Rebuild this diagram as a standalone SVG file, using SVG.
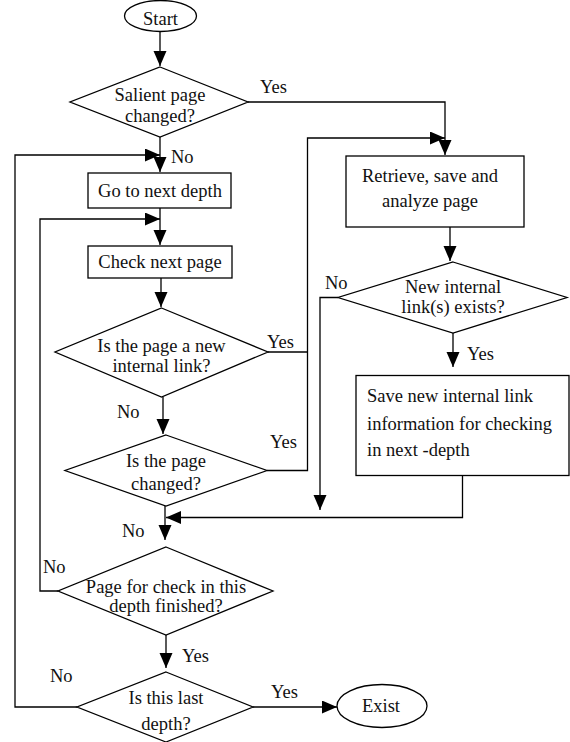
<svg xmlns="http://www.w3.org/2000/svg" width="570" height="742" viewBox="0 0 570 742">
<defs>
<marker id="ah" markerUnits="userSpaceOnUse" markerWidth="16" markerHeight="14" refX="15" refY="6.5" orient="auto">
<path d="M0,0 L15,6.5 L0,13 Z" fill="#000"/>
</marker>
<style>
.s{fill:#fff;stroke:#000;stroke-width:1.3}
.c{fill:none;stroke:#000;stroke-width:1.3}
.a{fill:none;stroke:#000;stroke-width:1.3;marker-end:url(#ah)}
text{font-family:"Liberation Serif","Times New Roman",serif;font-size:18.5px;fill:#111}
.m{text-anchor:middle}
</style>
</defs>
<rect width="570" height="742" fill="#fff"/>
<g id="connectors">
<line class="a" x1="160" y1="31" x2="160" y2="66"/>
<polyline class="a" points="248,102 445,102 445,155"/>
<line class="a" x1="160" y1="137" x2="160" y2="172"/>
<polyline class="a" points="77,707 15,707 15,155 160,155"/>
<line class="a" x1="160" y1="208" x2="160" y2="245"/>
<polyline class="a" points="58,591 40,591 40,219 160,219"/>
<line class="a" x1="161" y1="278" x2="161" y2="307"/>
<line class="a" x1="163" y1="397" x2="163" y2="434"/>
<polyline class="c" points="268,352 307.5,352"/>
<polyline class="a" points="267,470.5 307.5,470.5 307.5,138 445,138"/>
<line class="a" x1="450" y1="226" x2="450" y2="261"/>
<polyline class="a" points="338,297.5 320,297.5 320,510"/>
<line class="a" x1="453" y1="333" x2="453" y2="367"/>
<polyline class="a" points="462.5,475 462.5,517.5 166,517.5"/>
<line class="a" x1="165" y1="506" x2="165" y2="540"/>
<line class="a" x1="166" y1="635" x2="166" y2="668"/>
<line class="a" x1="253" y1="707" x2="337" y2="707"/>
</g>
<g id="start">
<ellipse class="s" cx="160.5" cy="16" rx="36" ry="15.5"/>
<text class="m" x="160.5" y="25">Start</text>
</g>
<g id="salient">
<polygon class="s" points="160,67 248,102 160,137 70,102"/>
<text class="m" x="160" y="101">Salient page</text>
<text class="m" x="160" y="121.5">changed?</text>
<text x="260" y="93">Yes</text>
<text x="171" y="163">No</text>
</g>
<g id="gonext">
<rect class="s" x="88" y="173" width="143" height="35"/>
<text class="m" x="160" y="197">Go to next depth</text>
</g>
<g id="checknext">
<rect class="s" x="88" y="246" width="144" height="32"/>
<text class="m" x="160" y="268">Check next page</text>
</g>
<g id="newlink">
<polygon class="s" points="161.5,308 268,352 161.5,397 55,352"/>
<text class="m" x="161.5" y="352">Is the page a new</text>
<text class="m" x="161.5" y="372">internal link?</text>
<text x="267" y="348">Yes</text>
<text x="117" y="418">No</text>
</g>
<g id="changed">
<polygon class="s" points="166,435 267,470.5 166,506 65,470.5"/>
<text class="m" x="166" y="467">Is the page</text>
<text class="m" x="166" y="490">changed?</text>
<text x="270" y="448">Yes</text>
</g>
<g id="retrieve">
<rect class="s" x="346" y="156" width="178" height="71"/>
<text class="m" x="430" y="182">Retrieve, save and</text>
<text class="m" x="430" y="207">analyze page</text>
</g>
<g id="exists">
<polygon class="s" points="453,262 567,297.5 453,333 338,297.5"/>
<text class="m" x="453" y="293">New internal</text>
<text class="m" x="453" y="313">link(s) exists?</text>
<text x="325" y="289">No</text>
<text x="467" y="360">Yes</text>
</g>
<g id="savelink">
<rect class="s" x="356" y="375.5" width="213" height="100"/>
<text x="367" y="402">Save new internal link</text>
<text x="367" y="430">information for checking</text>
<text x="367" y="456">in next -depth</text>
</g>
<g id="finished">
<polygon class="s" points="166,547 273,591 166,635 58,591"/>
<text class="m" x="166" y="593">Page for check in this</text>
<text class="m" x="166" y="612">depth finished?</text>
<text x="122" y="537">No</text>
<text x="43" y="573">No</text>
<text x="182" y="662">Yes</text>
</g>
<g id="lastdepth">
<polygon class="s" points="166,672 253,707 166,742 77,707"/>
<text class="m" x="166" y="704">Is this last</text>
<text class="m" x="166" y="730">depth?</text>
<text x="50" y="682">No</text>
<text x="271" y="698">Yes</text>
</g>
<g id="exist">
<ellipse class="s" cx="382" cy="706" rx="45" ry="21.5"/>
<text class="m" x="381" y="712">Exist</text>
</g>
</svg>
